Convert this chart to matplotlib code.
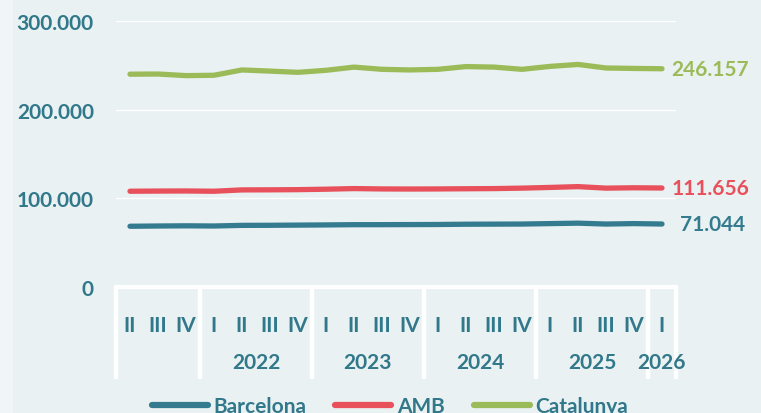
import matplotlib.pyplot as plt
from matplotlib.patches import Rectangle
from matplotlib.transforms import blended_transform_factory

quarters = ["II", "III", "IV",
            "I", "II", "III", "IV",
            "I", "II", "III", "IV",
            "I", "II", "III", "IV",
            "I", "II", "III", "IV",
            "I"]
years = ["2022", "2023", "2024", "2025", "2026"]
year_sizes = [3, 4, 4, 4, 4, 1]  # quarters per year, first group is 2021 (no label)

barcelona = [68500, 68800, 69000, 68800, 69500, 69600, 69800, 70000, 70300, 70300,
             70400, 70500, 70800, 70900, 71000, 71500, 72000, 71000, 71500, 71044]
amb = [108000, 108200, 108300, 108000, 109500, 109600, 109800, 110300, 111000, 110600,
       110500, 110600, 110800, 111000, 111500, 112300, 113200, 111500, 111900, 111656]
catalunya = [240000, 240200, 238400, 238800, 244800, 243500, 242100, 244400, 248000, 245500,
             244800, 245500, 248600, 248000, 245500, 248800, 251000, 247000, 246500, 246157]

bg = "#E9F1F3"
txt = "#31788A"
colors = {"Barcelona": "#357B8F", "AMB": "#E8505B", "Catalunya": "#9BBB59"}
plt.rcParams['font.family'] = ['Lato', 'DejaVu Sans']
plt.rcParams['font.weight'] = 'bold'

fig = plt.figure(figsize=(7.61, 4.14), dpi=100, facecolor=bg)
fig.patches.append(Rectangle((0, 0), 12 / 761, 1, transform=fig.transFigure,
                             color="#F0F5F7", zorder=0))
ax = fig.add_axes([116 / 761, 1 - 288 / 414, 560 / 761, 266 / 414])
ax.set_facecolor(bg)

x = list(range(len(quarters)))
series = [("Barcelona", barcelona), ("AMB", amb), ("Catalunya", catalunya)]
for name, vals in series:
    ax.plot(x, vals, color=colors[name], lw=3.8, solid_capstyle='round', label=name, zorder=3)
    lab = f"{vals[-1]:,}".replace(",", ".")
    off = 13 if name == "Barcelona" else 7
    ax.annotate(lab, (x[-1], vals[-1]), xytext=(off, 0), textcoords='offset points',
                va='center', ha='left', color=colors[name], fontsize=15, fontweight='bold',
                annotation_clip=False)

ax.set_xlim(-0.5, len(quarters) - 0.5)
ax.set_ylim(0, 300000)
ax.set_yticks([0, 100000, 200000, 300000])
ax.set_yticklabels(["0", "100.000", "200.000", "300.000"])
ax.grid(axis='y', color='white', lw=1)
ax.set_axisbelow(True)
ax.set_xticks(x)
ax.set_xticklabels(quarters)
ax.tick_params(axis='both', length=0, labelsize=15, labelcolor=txt)
ax.tick_params(axis='y', pad=16)
ax.tick_params(axis='x', pad=20)
for s in ["top", "right", "left"]:
    ax.spines[s].set_visible(False)
ax.spines["bottom"].set_color("white")
ax.spines["bottom"].set_linewidth(3)

# year separators and labels
tr = blended_transform_factory(ax.transData, ax.transAxes)
bounds = [-0.5]
for n in year_sizes:
    bounds.append(bounds[-1] + n)
for b in bounds:
    ax.plot([b, b], [0, -0.345], transform=tr, color='white', lw=3.2, clip_on=False,
            solid_capstyle='butt')
for i, yr in enumerate(years):
    c = (bounds[i + 1] + bounds[i + 2]) / 2
    ax.text(c, -0.282, yr, transform=tr, ha='center', va='center', color=txt,
            fontsize=15, fontweight='bold')

leg = fig.legend(loc='center', bbox_to_anchor=(0.512, 7 / 414), ncol=3, frameon=False,
                 handlelength=2.7, handletextpad=0.25, columnspacing=1.4,
                 prop={'size': 15, 'weight': 'bold'})
for t in leg.get_texts():
    t.set_color(txt)
for h in leg.legend_handles:
    h.set_linewidth(4.5)

fig.savefig("out.png", dpi=100, facecolor=bg)
